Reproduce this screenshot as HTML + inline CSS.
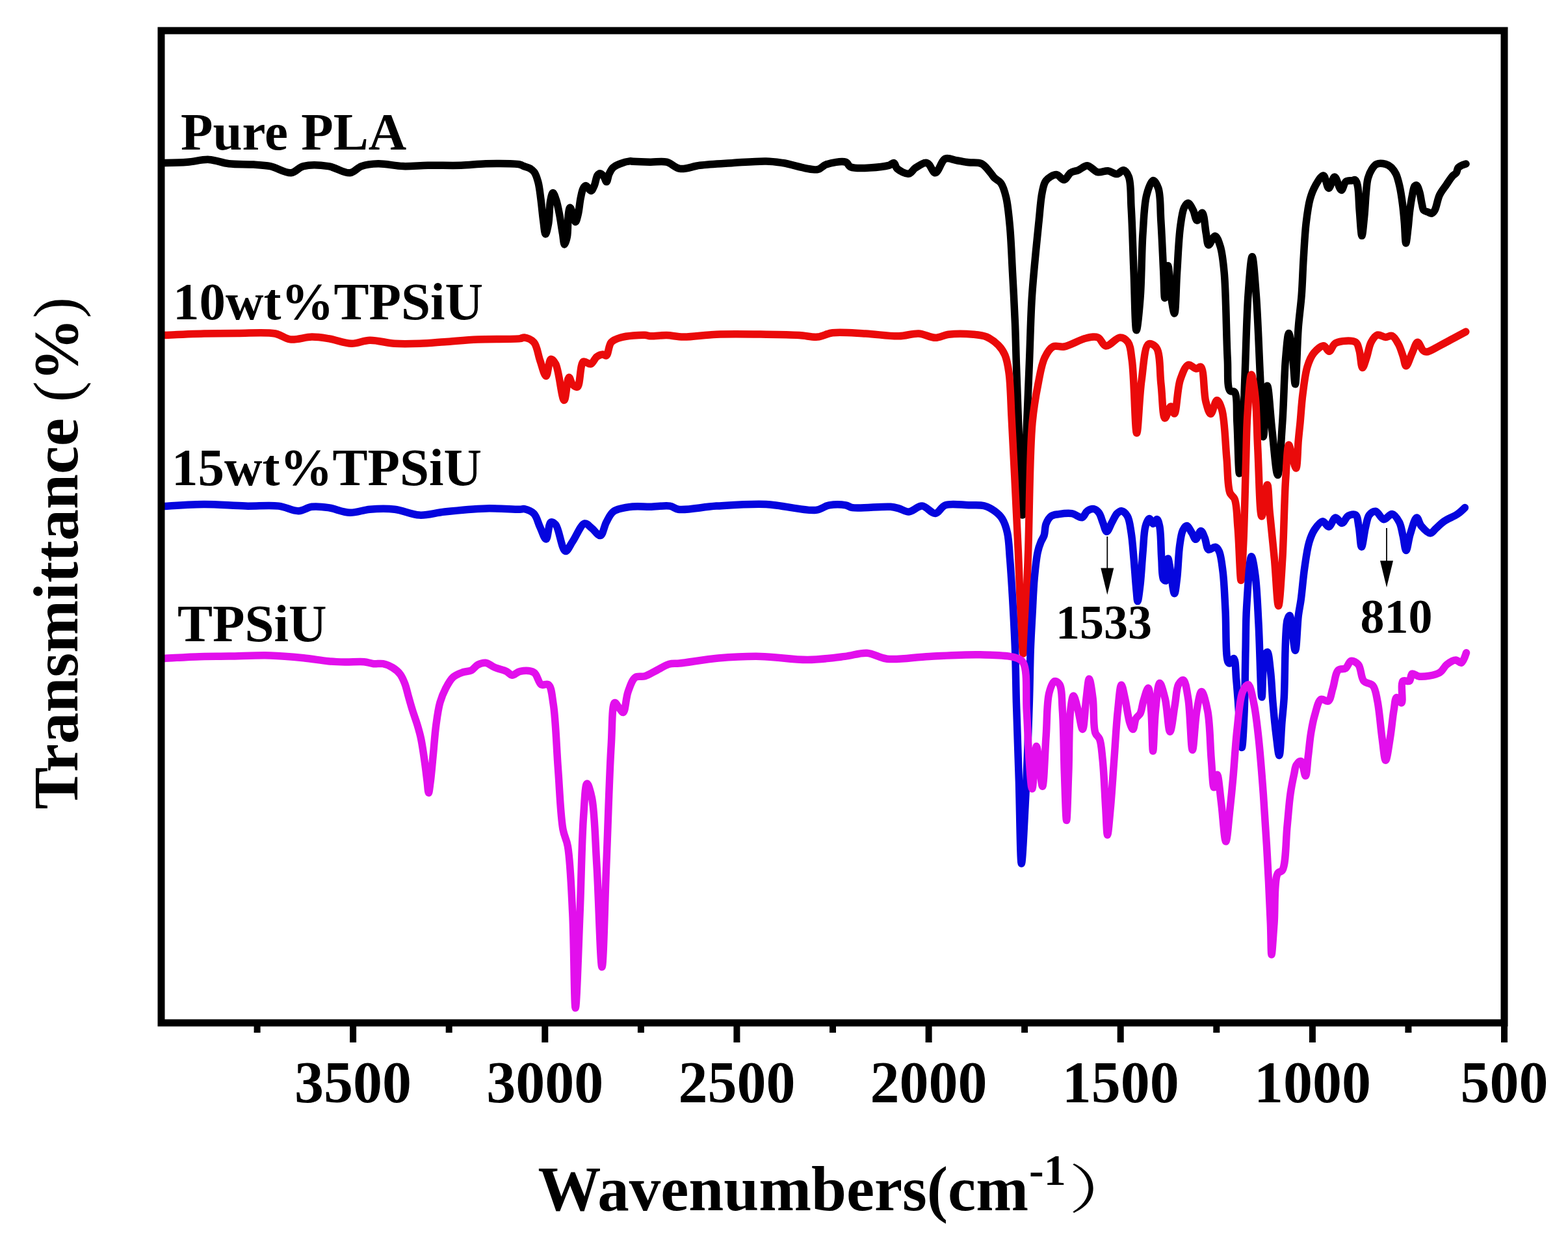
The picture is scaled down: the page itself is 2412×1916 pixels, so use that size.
<!DOCTYPE html>
<html><head><meta charset="utf-8"><title>FTIR spectra</title><style>html,body{margin:0;padding:0;background:#fff;overflow:hidden}svg{display:block}</style></head><body>
<svg width="2412" height="1916" viewBox="0 0 2412 1916">
<rect width="2412" height="1916" fill="#fff"/>
<path d="M252.6 250.5 C252.6 250.5 276.6 250.1 288.3 249.2 C299.6 248.4 310.6 244.9 321.4 245.4 C331.8 245.9 341.2 250.5 352.0 251.8 C364.0 253.2 378.8 252.3 390.3 253.1 C399.7 253.7 406.9 253.8 415.8 255.6 C425.9 257.7 438.6 266.6 447.7 265.8 C455.0 265.1 459.0 257.5 466.8 255.6 C477.1 253.0 492.9 253.8 505.1 255.6 C516.7 257.3 529.1 266.8 538.3 265.8 C545.4 265.0 549.4 257.9 556.1 255.6 C563.6 253.0 572.2 252.0 581.6 251.8 C593.1 251.5 607.1 255.2 619.9 255.6 C632.7 256.0 644.5 254.5 658.2 254.3 C674.0 254.0 693.4 254.8 709.2 254.3 C722.9 253.9 733.6 252.1 747.4 251.8 C763.5 251.5 791.9 251.3 800.0 253.1 C802.6 253.7 803.0 254.5 804.9 255.3 C807.6 256.4 811.9 257.1 814.8 258.8 C817.5 260.3 819.8 262.0 821.8 264.7 C824.4 268.3 826.1 273.9 827.7 279.6 C829.7 286.7 830.5 295.4 831.7 304.4 C833.2 315.0 834.3 329.1 835.7 339.2 C836.8 347.0 837.7 359.9 839.1 360.0 C840.4 360.1 842.4 350.5 843.6 344.1 C845.3 334.8 844.9 318.1 846.6 309.4 C847.6 304.0 849.0 296.6 850.5 296.5 C852.0 296.4 854.0 303.0 855.5 307.4 C857.5 313.4 859.0 321.4 860.5 329.3 C862.3 338.4 863.9 350.5 865.4 359.0 C866.5 365.4 867.1 375.8 868.4 375.9 C869.5 376.0 871.4 369.1 872.4 364.0 C874.0 355.5 873.2 337.3 874.4 329.3 C875.0 324.9 875.7 319.4 876.8 319.3 C878.0 319.2 879.9 325.8 881.3 329.3 C882.8 333.1 884.0 341.2 885.3 341.2 C886.6 341.2 888.1 334.0 889.3 329.3 C890.9 322.6 891.7 311.6 893.2 304.4 C894.4 298.8 895.3 292.8 897.2 289.6 C898.3 287.6 899.6 285.6 901.2 285.6 C903.4 285.6 906.9 293.7 909.1 293.5 C911.1 293.3 912.6 288.8 914.1 285.6 C916.1 281.3 916.9 272.8 919.0 269.7 C920.2 268.0 921.5 266.7 923.0 266.7 C924.8 266.7 927.4 269.6 929.0 271.7 C930.7 273.9 931.7 279.7 932.9 279.6 C934.4 279.5 935.2 271.4 936.9 267.7 C938.5 264.2 940.2 260.4 942.9 257.8 C945.7 255.1 949.8 253.4 953.8 251.8 C958.3 250.0 965.1 248.3 968.7 247.9 C970.8 247.7 971.3 248.1 973.6 248.2 C978.9 248.5 991.3 249.0 1000.0 249.2 C1008.6 249.4 1017.7 247.4 1025.5 249.2 C1032.9 250.9 1038.2 258.2 1045.9 259.4 C1054.9 260.8 1065.0 255.7 1076.5 254.3 C1091.3 252.5 1110.6 251.6 1127.6 250.5 C1144.6 249.5 1164.5 247.7 1178.6 248.0 C1188.6 248.2 1194.1 249.1 1204.1 250.5 C1218.7 252.6 1246.2 262.7 1257.7 260.7 C1263.7 259.6 1265.0 255.0 1270.4 253.1 C1278.2 250.4 1294.5 247.0 1301.0 249.2 C1304.9 250.5 1304.4 255.2 1308.7 256.9 C1318.7 260.8 1357.0 256.9 1367.3 254.3 C1371.2 253.3 1372.9 249.9 1375.0 250.5 C1377.3 251.2 1377.3 256.9 1380.1 259.4 C1384.0 262.8 1393.1 267.9 1398.0 267.1 C1402.1 266.5 1404.1 260.8 1408.2 258.2 C1413.1 255.1 1420.9 249.3 1426.0 250.5 C1431.1 251.7 1434.5 266.0 1438.8 265.8 C1443.8 265.6 1447.8 246.8 1454.1 244.1 C1459.2 241.9 1465.9 245.8 1471.9 246.7 C1477.9 247.7 1483.8 249.0 1490.0 249.8 C1496.5 250.7 1504.3 249.1 1509.9 251.8 C1515.5 254.5 1520.1 261.6 1523.7 265.7 C1526.2 268.6 1527.3 271.1 1529.7 273.6 C1532.4 276.4 1536.9 277.7 1539.6 281.5 C1543.3 286.7 1545.5 294.6 1547.6 303.4 C1550.6 315.7 1551.9 332.2 1553.5 349.0 C1555.4 369.7 1556.2 394.6 1557.5 418.5 C1558.9 444.1 1560.5 473.1 1561.5 497.9 C1562.4 519.9 1562.6 535.4 1563.4 560.0 C1564.6 596.1 1566.6 652.3 1568.3 693.4 C1569.8 728.8 1571.4 792.0 1573.0 792.0 C1574.6 792.0 1576.2 728.7 1577.8 693.4 C1579.6 652.3 1581.6 601.5 1583.3 560.0 C1584.8 523.8 1585.4 488.9 1587.3 458.2 C1588.9 432.8 1591.2 409.9 1593.2 388.7 C1594.9 370.8 1596.5 355.1 1598.2 339.1 C1599.8 324.1 1600.7 306.7 1603.2 295.4 C1604.8 288.1 1605.4 282.1 1609.1 277.6 C1612.7 273.2 1620.1 268.4 1625.0 268.6 C1629.3 268.8 1633.3 277.0 1636.9 276.6 C1640.6 276.2 1643.0 268.2 1646.8 265.7 C1650.3 263.4 1654.6 263.4 1658.7 261.7 C1663.2 259.8 1667.9 254.5 1672.6 254.7 C1677.8 254.9 1683.0 263.5 1688.5 264.7 C1693.6 265.8 1699.3 262.2 1704.4 262.7 C1709.3 263.2 1714.1 268.0 1718.3 267.6 C1722.0 267.2 1725.3 261.2 1728.2 261.7 C1731.3 262.2 1734.2 266.6 1736.2 271.6 C1740.1 281.2 1739.0 300.5 1740.1 319.3 C1741.8 346.4 1742.7 386.3 1744.1 418.5 C1745.4 449.1 1746.0 507.7 1748.1 507.8 C1749.7 507.9 1752.5 477.6 1754.0 458.2 C1756.2 430.8 1756.0 387.9 1758.0 359.0 C1759.6 336.6 1759.9 314.1 1763.9 299.4 C1766.4 290.1 1770.5 277.9 1773.9 277.6 C1776.5 277.4 1779.8 283.8 1781.8 289.5 C1785.5 300.1 1784.6 320.6 1785.8 339.1 C1787.3 362.5 1788.7 396.6 1789.8 418.5 C1790.6 434.0 1790.7 458.2 1791.7 458.2 C1792.9 458.2 1795.0 408.6 1796.7 408.6 C1798.4 408.6 1799.6 444.7 1801.7 458.2 C1803.1 467.6 1805.3 482.1 1806.6 482.0 C1808.7 481.8 1809.1 440.1 1810.6 418.5 C1812.1 395.9 1813.1 367.3 1815.6 349.0 C1817.2 337.0 1818.5 325.5 1821.5 319.3 C1823.2 315.9 1825.4 312.2 1827.5 312.3 C1830.0 312.4 1833.2 319.1 1835.4 323.2 C1837.9 327.9 1838.9 338.8 1841.4 339.1 C1843.7 339.4 1847.2 326.8 1849.3 327.2 C1852.5 327.8 1853.5 349.9 1855.3 359.0 C1856.7 365.8 1856.8 376.3 1859.2 376.8 C1861.5 377.3 1866.2 362.7 1869.2 362.9 C1872.2 363.1 1875.0 372.1 1877.1 378.8 C1880.3 388.9 1881.5 401.3 1883.1 418.5 C1886.1 449.8 1886.3 518.1 1888.2 551.6 C1889.4 571.9 1887.1 594.5 1891.9 600.6 C1893.8 603.0 1897.3 600.6 1899.2 603.0 C1903.8 608.9 1901.8 632.0 1902.9 649.6 C1904.3 672.3 1904.9 727.9 1906.6 728.0 C1907.6 728.0 1909.1 711.8 1910.2 698.6 C1912.4 671.8 1913.5 616.9 1915.1 576.0 C1916.7 535.2 1917.6 486.9 1920.0 453.5 C1921.7 430.3 1924.1 394.7 1926.2 394.7 C1928.2 394.7 1930.5 430.3 1932.3 453.5 C1934.9 486.9 1936.5 537.7 1938.4 576.0 C1940.1 609.9 1941.3 671.7 1943.3 671.7 C1945.1 671.7 1947.2 593.2 1949.5 593.2 C1951.7 593.2 1954.2 639.0 1956.8 661.9 C1959.5 684.8 1962.8 730.5 1965.4 730.5 C1968.2 730.5 1970.7 677.9 1972.7 649.6 C1974.9 618.5 1975.4 576.9 1977.6 551.6 C1979.0 535.6 1980.7 512.4 1982.5 512.4 C1984.4 512.4 1987.0 538.5 1988.7 551.6 C1990.3 564.6 1991.2 590.8 1992.4 590.8 C1994.2 590.8 1995.3 527.6 1997.3 502.5 C1998.8 483.8 2000.9 470.2 2002.2 453.5 C2003.5 436.1 2003.9 418.2 2005.0 400.0 C2006.2 381.1 2007.2 359.4 2009.2 342.4 C2010.8 328.8 2012.4 316.0 2015.3 305.7 C2017.5 297.8 2020.0 291.4 2023.5 285.3 C2026.8 279.6 2032.3 269.5 2035.7 270.0 C2039.2 270.5 2041.0 289.3 2043.9 289.4 C2046.7 289.5 2049.9 272.0 2053.0 272.0 C2056.3 272.0 2060.1 292.4 2063.3 292.4 C2065.9 292.4 2067.1 281.5 2070.4 279.2 C2073.0 277.3 2077.4 278.1 2080.0 277.6 C2081.8 277.3 2083.4 276.0 2084.7 276.7 C2086.5 277.7 2087.4 281.8 2088.4 286.0 C2090.3 294.2 2090.1 310.8 2091.2 323.4 C2092.3 336.3 2093.6 362.6 2094.9 362.6 C2096.1 362.6 2097.6 343.3 2098.7 332.8 C2099.9 321.1 2100.4 306.1 2101.5 295.4 C2102.3 287.2 2102.6 280.1 2104.3 273.9 C2105.7 268.9 2107.5 264.5 2109.9 260.8 C2112.0 257.5 2114.1 253.9 2117.4 252.4 C2121.1 250.8 2127.4 251.4 2131.4 252.4 C2134.7 253.3 2137.3 254.9 2139.8 257.1 C2142.7 259.7 2145.2 263.3 2147.3 267.4 C2149.8 272.5 2151.3 279.1 2152.9 286.0 C2154.8 294.3 2156.3 304.7 2157.5 314.1 C2158.7 323.4 2159.5 332.5 2160.3 342.1 C2161.2 352.4 2161.6 373.9 2162.7 373.9 C2163.6 373.9 2164.9 359.3 2165.9 351.4 C2167.0 342.6 2167.5 332.3 2168.7 323.4 C2169.8 315.3 2171.1 306.9 2172.5 300.1 C2173.6 294.8 2174.3 288.0 2176.2 286.0 C2177.1 285.1 2178.5 284.6 2179.5 285.1 C2181.3 286.0 2182.5 291.4 2183.7 295.4 C2185.3 300.6 2186.1 309.0 2187.4 314.1 C2188.3 317.8 2188.4 321.4 2190.2 323.4 C2191.8 325.1 2194.7 325.4 2196.8 326.2 C2198.7 326.9 2200.7 328.5 2202.4 328.1 C2204.2 327.7 2205.6 325.8 2207.0 323.4 C2209.8 318.7 2211.1 306.9 2214.4 300.0 C2217.3 293.9 2221.5 289.1 2225.0 284.0 C2228.3 279.1 2232.0 273.1 2235.0 270.0 C2236.8 268.1 2238.7 267.8 2240.0 266.0 C2241.5 263.9 2241.5 260.0 2243.0 258.0 C2244.3 256.3 2246.1 255.5 2248.0 254.5 C2250.1 253.4 2255.0 252.0 2255.0 252.0" fill="none" stroke="#000" stroke-width="11.5" stroke-linejoin="round" stroke-linecap="round"/>
<path d="M252.6 515.5 C252.6 515.5 294.3 513.5 313.8 513.0 C331.6 512.5 347.2 512.4 364.8 512.4 C383.7 512.4 408.6 510.1 423.5 513.0 C433.1 514.9 437.9 520.8 446.4 521.9 C456.3 523.2 469.3 518.2 479.6 518.1 C488.7 518.0 495.9 519.2 505.1 520.6 C516.0 522.3 529.6 528.1 540.8 528.3 C550.7 528.5 558.8 523.4 568.9 523.2 C580.6 522.9 594.3 527.5 607.1 528.3 C619.8 529.1 632.6 528.7 645.4 528.3 C658.2 527.9 670.0 526.7 683.7 525.7 C699.5 524.6 716.6 522.8 734.7 521.9 C755.1 520.9 789.5 522.0 800.0 520.6 C803.4 520.2 804.0 518.7 806.6 519.0 C810.6 519.5 817.6 522.0 821.4 526.4 C826.5 532.3 827.5 545.3 830.7 554.2 C833.7 562.6 837.2 578.4 840.0 578.3 C842.8 578.2 844.0 553.3 847.4 552.4 C849.5 551.9 852.5 555.7 854.8 559.8 C860.1 569.4 864.1 615.4 867.8 615.4 C870.7 615.4 872.3 580.6 875.2 580.2 C876.9 580.0 878.3 588.8 880.8 591.3 C882.8 593.3 886.1 596.0 888.2 595.0 C892.9 592.8 891.9 559.2 897.4 556.1 C900.4 554.4 905.3 560.7 908.6 559.8 C912.3 558.8 914.5 551.1 918.0 548.6 C920.8 546.6 924.5 545.1 927.2 545.0 C929.3 544.9 931.1 547.6 932.7 546.8 C935.9 545.3 936.0 531.1 940.2 526.4 C943.9 522.3 948.7 520.8 955.0 519.0 C964.4 516.3 984.2 515.0 992.0 515.3 C995.7 515.5 996.6 516.6 1000.0 516.8 C1006.1 517.2 1017.0 515.3 1025.5 515.5 C1034.0 515.7 1041.0 518.0 1051.0 518.1 C1065.1 518.3 1083.3 514.9 1102.0 514.2 C1124.9 513.3 1155.7 513.9 1178.6 514.2 C1197.3 514.4 1215.1 514.6 1229.6 515.5 C1240.4 516.1 1248.9 518.9 1257.7 518.1 C1265.8 517.4 1271.4 512.8 1280.6 511.7 C1294.1 510.0 1314.6 512.2 1331.6 513.0 C1348.6 513.9 1367.9 517.2 1382.7 516.8 C1394.2 516.5 1403.6 512.4 1413.3 513.0 C1422.2 513.5 1430.8 519.3 1438.8 519.3 C1446.0 519.3 1451.3 515.2 1459.2 514.2 C1469.9 512.9 1486.7 513.2 1497.4 514.2 C1505.3 514.9 1511.6 515.4 1517.9 518.1 C1524.4 520.9 1530.9 525.9 1535.7 530.8 C1540.1 535.3 1543.3 540.0 1545.9 546.1 C1549.1 553.5 1550.4 561.8 1552.0 572.8 C1554.5 590.0 1554.7 615.9 1556.0 640.0 C1557.6 668.1 1559.1 698.9 1560.7 731.3 C1562.5 768.3 1564.8 813.2 1566.4 850.0 C1567.8 882.1 1568.6 912.4 1570.0 940.0 C1571.2 963.4 1572.7 1005.0 1574.0 1005.0 C1575.3 1005.0 1576.8 963.4 1578.0 940.0 C1579.4 912.4 1580.3 885.9 1581.6 850.0 C1583.5 796.5 1583.7 697.1 1588.0 650.0 C1590.4 624.1 1593.4 607.9 1597.0 590.0 C1599.9 575.2 1602.1 560.2 1607.0 550.0 C1610.5 542.7 1614.6 535.7 1620.0 533.0 C1624.8 530.6 1630.5 534.2 1637.0 533.0 C1646.5 531.2 1661.1 522.1 1670.8 520.0 C1677.7 518.5 1683.9 516.9 1689.0 519.0 C1694.0 521.0 1696.0 531.3 1701.0 532.0 C1707.0 532.9 1716.8 519.0 1723.0 519.0 C1727.6 519.0 1732.0 522.0 1735.0 526.0 C1739.3 531.8 1739.5 541.6 1741.3 554.2 C1744.9 579.0 1745.9 666.0 1748.6 666.0 C1750.9 666.0 1752.5 609.4 1756.0 585.0 C1758.9 564.5 1760.2 532.3 1767.0 529.0 C1770.3 527.4 1775.9 530.7 1779.0 535.0 C1785.3 543.9 1783.8 572.7 1786.0 591.0 C1788.1 608.6 1788.2 642.3 1792.0 643.0 C1794.3 643.4 1798.4 625.0 1801.0 625.0 C1803.1 625.0 1804.8 636.3 1806.5 636.0 C1810.0 635.5 1810.8 597.6 1815.5 584.0 C1818.8 574.5 1823.0 562.6 1828.0 561.0 C1831.6 559.9 1836.5 566.8 1840.0 567.0 C1842.7 567.1 1845.2 563.1 1847.2 564.3 C1852.5 567.4 1851.3 604.4 1854.8 617.5 C1857.0 625.6 1859.6 636.3 1862.4 636.4 C1865.3 636.5 1868.9 615.5 1872.0 615.4 C1874.6 615.3 1877.5 623.0 1879.6 630.0 C1884.1 645.1 1884.8 682.2 1887.0 705.0 C1888.8 724.1 1888.0 747.3 1891.9 757.6 C1893.8 762.6 1897.3 762.7 1899.2 767.5 C1902.8 776.7 1902.6 794.7 1904.1 811.6 C1906.1 834.5 1907.5 892.5 1909.0 892.5 C1910.3 892.5 1911.6 858.4 1912.7 836.0 C1914.3 803.0 1915.3 749.1 1916.4 713.5 C1917.3 685.9 1917.3 663.6 1918.8 640.0 C1920.2 617.9 1922.6 576.1 1925.0 576.0 C1926.8 575.9 1929.5 596.2 1931.0 610.0 C1933.3 631.0 1933.3 661.6 1934.8 690.0 C1936.5 722.4 1937.6 793.8 1940.9 794.0 C1943.2 794.1 1947.4 745.3 1949.5 745.4 C1951.4 745.5 1951.6 771.2 1953.1 787.0 C1955.1 808.1 1958.2 836.3 1960.5 860.6 C1962.7 884.5 1964.6 931.7 1966.6 931.7 C1968.6 931.7 1971.0 887.5 1972.7 860.6 C1974.9 825.3 1975.5 770.6 1977.6 738.0 C1979.0 716.4 1980.1 684.3 1982.5 684.1 C1983.9 684.0 1985.7 695.5 1987.5 701.3 C1989.4 707.4 1992.1 720.2 1993.6 720.0 C1995.9 719.7 1996.1 689.5 1997.3 676.8 C1998.2 666.8 1999.0 660.0 2000.0 650.0 C2001.2 637.2 2002.1 620.5 2004.0 606.1 C2005.8 591.9 2007.5 575.4 2011.0 564.0 C2013.6 555.6 2016.3 548.5 2020.8 543.0 C2024.9 538.0 2032.0 531.5 2036.2 531.8 C2039.6 532.1 2041.8 540.4 2044.6 540.2 C2047.9 540.0 2049.5 530.2 2054.5 527.6 C2061.5 524.0 2079.5 522.6 2085.3 526.2 C2089.2 528.6 2089.3 533.7 2090.9 538.8 C2093.1 545.9 2093.6 565.3 2095.8 565.5 C2097.5 565.7 2100.1 555.8 2102.1 550.0 C2104.6 543.0 2105.7 532.4 2109.1 526.2 C2111.7 521.4 2115.0 516.2 2118.9 515.0 C2122.5 513.9 2127.5 518.4 2131.5 518.5 C2135.0 518.6 2138.3 515.3 2141.3 516.4 C2145.0 517.8 2148.4 524.2 2151.1 529.0 C2154.1 534.3 2156.0 541.4 2158.1 547.3 C2160.0 552.6 2160.9 562.6 2163.0 562.7 C2165.4 562.9 2169.2 549.3 2172.2 543.0 C2175.0 537.2 2177.6 526.4 2180.6 526.2 C2183.3 526.0 2186.1 536.5 2189.0 538.8 C2190.8 540.3 2192.2 541.1 2194.6 541.0 C2199.2 540.9 2207.6 535.1 2214.2 531.8 C2221.1 528.3 2228.3 524.3 2235.2 520.6 C2241.8 517.0 2254.8 510.1 2254.8 510.1" fill="none" stroke="#ea0a0a" stroke-width="11.5" stroke-linejoin="round" stroke-linecap="round"/>
<path d="M252.6 778.6 C252.6 778.6 293.2 775.6 313.8 775.5 C334.8 775.4 357.5 777.7 377.6 778.1 C395.5 778.5 413.9 776.3 428.6 778.1 C440.2 779.5 450.1 786.0 459.2 785.7 C466.7 785.5 472.3 780.2 479.6 779.3 C487.5 778.3 496.1 779.3 505.1 780.6 C515.5 782.1 527.4 788.0 538.3 788.3 C548.7 788.6 558.1 784.1 568.9 783.2 C580.9 782.2 594.4 781.7 607.1 783.2 C619.9 784.7 632.6 791.5 645.4 792.1 C658.1 792.7 669.3 788.5 683.7 787.0 C702.2 785.0 727.2 782.5 747.4 781.9 C765.8 781.4 790.8 783.4 800.0 783.2 C803.3 783.1 804.0 782.2 806.6 782.7 C810.6 783.5 817.5 786.1 821.4 790.1 C825.9 794.8 827.5 803.9 830.7 810.5 C833.7 816.8 837.3 829.3 840.0 829.0 C843.0 828.7 843.7 804.6 847.4 803.0 C849.5 802.1 852.4 804.1 854.8 806.8 C860.2 813.0 864.3 846.8 869.7 847.6 C873.2 848.1 876.7 838.6 880.8 832.8 C886.3 825.0 893.4 806.2 899.4 805.0 C903.2 804.2 906.7 809.6 910.5 812.4 C914.8 815.6 919.9 824.3 923.5 823.5 C927.6 822.6 929.2 809.3 932.7 803.0 C936.0 797.0 938.3 790.4 943.9 786.4 C950.9 781.5 963.9 780.1 973.6 779.0 C982.6 777.9 990.9 779.4 1000.0 779.3 C1009.8 779.2 1022.7 776.7 1030.6 778.1 C1035.9 779.0 1037.4 782.3 1043.4 783.2 C1055.7 785.0 1081.1 779.4 1102.0 778.1 C1125.8 776.7 1153.1 774.5 1178.6 775.5 C1204.1 776.5 1237.9 786.5 1255.1 784.4 C1264.2 783.3 1268.2 778.1 1275.5 776.8 C1283.4 775.4 1294.5 775.6 1301.0 776.8 C1305.3 777.6 1306.3 779.8 1311.2 780.6 C1322.6 782.5 1357.5 778.2 1369.9 779.3 C1375.8 779.8 1378.3 780.7 1382.7 781.9 C1387.6 783.2 1392.6 787.2 1398.0 787.0 C1404.4 786.7 1411.7 777.8 1418.4 778.1 C1425.3 778.4 1432.7 790.1 1438.8 789.5 C1444.5 789.0 1447.4 779.2 1454.1 776.8 C1463.1 773.5 1479.3 776.5 1490.0 776.7 C1498.7 776.9 1506.8 775.9 1513.8 777.7 C1519.8 779.3 1525.0 782.3 1529.7 785.7 C1534.3 789.0 1538.4 792.6 1541.6 797.6 C1545.3 803.5 1547.7 810.9 1549.6 819.4 C1552.1 830.5 1552.3 844.5 1553.5 859.1 C1555.0 876.9 1556.2 897.4 1557.5 918.7 C1558.9 943.3 1560.5 971.4 1561.5 998.1 C1562.5 1025.2 1562.6 1050.0 1563.4 1080.0 C1564.4 1116.4 1566.1 1160.2 1567.4 1201.0 C1568.7 1242.8 1569.5 1328.0 1571.3 1328.0 C1572.8 1328.0 1575.2 1273.3 1577.0 1239.5 C1579.4 1194.1 1581.9 1124.4 1583.3 1080.0 C1584.3 1048.2 1584.4 1023.2 1585.3 998.1 C1586.1 976.7 1587.3 957.5 1588.3 938.5 C1589.2 921.2 1589.8 904.5 1591.2 888.9 C1592.5 874.9 1594.0 859.4 1596.2 849.2 C1597.6 842.6 1599.3 837.9 1601.2 833.3 C1602.7 829.5 1604.8 827.3 1606.1 823.4 C1607.7 818.4 1607.1 810.7 1609.1 805.5 C1610.9 800.9 1613.5 796.1 1617.0 793.6 C1620.3 791.3 1624.5 791.3 1629.0 790.6 C1634.7 789.7 1642.7 788.6 1648.8 789.6 C1654.5 790.5 1660.6 796.7 1664.7 795.6 C1668.2 794.6 1669.4 787.8 1672.6 785.7 C1675.5 783.8 1679.6 782.2 1682.6 782.7 C1685.5 783.2 1688.3 785.8 1690.5 788.6 C1693.3 792.2 1694.5 798.6 1696.5 803.5 C1698.5 808.2 1700.1 817.3 1702.4 817.4 C1704.7 817.5 1707.7 808.1 1710.3 803.5 C1713.0 798.9 1715.3 792.6 1718.3 789.6 C1720.4 787.5 1722.8 785.5 1725.2 785.7 C1728.1 786.0 1731.9 789.7 1734.2 793.6 C1737.7 799.4 1738.5 809.8 1740.1 819.4 C1742.0 831.2 1742.8 845.1 1744.1 859.1 C1745.5 874.7 1746.9 896.8 1748.1 908.7 C1748.8 915.5 1749.2 924.6 1750.0 924.6 C1751.0 924.6 1752.8 908.8 1754.0 898.8 C1755.6 885.0 1756.6 864.8 1758.0 849.2 C1759.3 835.2 1759.4 818.7 1762.0 809.5 C1763.5 804.2 1765.7 797.8 1767.9 797.6 C1769.8 797.4 1771.9 805.4 1773.9 805.5 C1775.8 805.6 1778.2 798.3 1779.8 798.6 C1781.6 798.9 1782.7 804.4 1783.8 809.5 C1786.0 820.0 1785.7 844.4 1786.8 859.1 C1787.7 870.9 1787.0 886.7 1789.8 890.9 C1790.8 892.4 1792.6 893.5 1793.7 892.9 C1796.6 891.3 1795.3 859.2 1796.7 859.1 C1797.8 859.0 1799.3 871.5 1800.7 879.0 C1802.5 888.8 1804.8 912.7 1806.6 912.7 C1808.1 912.7 1809.4 898.3 1810.6 888.9 C1812.3 875.4 1812.7 852.8 1814.6 839.3 C1815.9 829.8 1816.9 820.8 1819.5 815.4 C1821.1 812.1 1823.4 808.4 1825.5 808.5 C1828.0 808.6 1831.0 815.8 1833.4 819.4 C1835.6 822.7 1837.3 829.3 1839.4 829.3 C1841.8 829.3 1844.9 816.3 1847.3 816.4 C1849.5 816.5 1851.5 823.1 1853.3 827.3 C1855.5 832.4 1855.8 843.6 1859.2 845.2 C1861.7 846.4 1866.5 840.6 1869.2 841.2 C1871.6 841.7 1873.5 844.0 1875.1 847.2 C1878.3 853.4 1879.5 866.7 1881.1 879.0 C1883.2 895.7 1883.8 917.2 1885.0 938.5 C1886.4 963.1 1885.0 1010.7 1889.0 1017.9 C1889.8 1019.4 1890.8 1020.0 1891.9 1019.9 C1893.7 1019.7 1896.4 1012.0 1898.0 1012.5 C1900.8 1013.3 1900.7 1034.0 1901.7 1044.4 C1902.7 1054.3 1903.1 1061.5 1904.1 1073.5 C1905.7 1092.9 1908.5 1149.5 1910.2 1149.5 C1911.6 1149.5 1913.0 1117.9 1913.9 1098.0 C1915.2 1070.6 1915.3 1029.4 1916.0 1000.0 C1916.6 975.8 1916.2 956.9 1917.6 934.0 C1919.1 909.0 1922.1 855.9 1925.0 855.7 C1926.8 855.6 1929.4 873.0 1931.0 885.0 C1933.6 903.9 1934.5 931.4 1936.0 958.6 C1937.9 992.3 1939.3 1072.0 1941.0 1072.0 C1942.3 1072.0 1941.7 1020.4 1945.0 1010.0 C1946.2 1006.1 1948.2 1002.4 1949.5 1002.7 C1951.9 1003.2 1953.1 1021.2 1954.4 1032.2 C1956.1 1046.2 1956.6 1063.9 1958.0 1080.0 C1959.4 1096.5 1961.1 1115.2 1963.0 1130.0 C1964.5 1141.8 1966.4 1161.8 1967.8 1161.8 C1969.6 1161.7 1970.7 1125.8 1972.0 1110.0 C1973.1 1096.8 1974.2 1089.2 1975.2 1073.5 C1977.0 1045.1 1976.0 969.4 1980.1 953.7 C1981.2 949.6 1982.6 946.2 1983.8 946.4 C1986.9 946.9 1990.1 1000.4 1992.4 1000.3 C1994.6 1000.2 1995.5 960.8 1997.3 946.4 C1998.5 936.7 1999.9 931.7 2001.2 922.2 C2003.1 908.7 2004.5 888.5 2006.8 873.1 C2008.8 859.3 2010.6 844.6 2013.8 833.9 C2016.1 826.1 2018.5 819.8 2022.2 814.3 C2025.6 809.3 2030.9 801.8 2034.8 801.7 C2038.0 801.6 2040.9 810.3 2043.9 810.0 C2047.5 809.7 2050.8 796.4 2054.5 796.0 C2057.7 795.7 2061.1 804.7 2064.3 804.5 C2067.7 804.3 2070.3 795.2 2074.1 793.2 C2077.4 791.4 2082.6 790.0 2085.3 791.8 C2088.7 794.1 2088.8 803.1 2090.2 810.0 C2092.0 818.9 2092.7 840.8 2094.4 840.9 C2096.2 841.0 2098.4 818.9 2100.7 810.0 C2102.5 803.1 2103.1 795.8 2106.3 791.8 C2108.8 788.7 2112.8 785.8 2116.1 786.2 C2120.2 786.8 2124.3 798.4 2128.7 798.8 C2132.7 799.2 2137.4 789.9 2141.3 790.4 C2145.4 790.9 2149.7 797.9 2152.5 803.0 C2155.6 808.8 2156.4 816.9 2158.1 824.0 C2159.9 831.4 2161.2 846.5 2163.0 846.5 C2164.9 846.5 2166.6 829.6 2169.3 821.3 C2172.0 812.8 2176.0 796.2 2179.2 796.0 C2181.6 795.8 2183.0 804.9 2186.2 808.7 C2189.8 812.9 2196.1 819.9 2200.2 819.9 C2203.4 819.9 2205.5 815.5 2208.6 812.9 C2212.4 809.6 2216.2 805.2 2221.2 801.7 C2227.1 797.6 2236.5 794.4 2242.2 790.4 C2246.7 787.3 2253.4 780.6 2253.4 780.6" fill="none" stroke="#0505de" stroke-width="11.5" stroke-linejoin="round" stroke-linecap="round"/>
<path d="M252.6 1012.4 C252.6 1012.4 284.7 1010.5 301.0 1009.9 C317.8 1009.3 334.0 1009.4 352.0 1009.1 C372.1 1008.8 395.7 1007.3 415.8 1007.9 C433.8 1008.4 451.0 1010.1 466.8 1011.7 C480.5 1013.1 493.6 1015.7 505.1 1016.8 C514.4 1017.7 521.8 1017.9 530.6 1018.1 C540.0 1018.3 551.9 1016.9 560.0 1017.7 C565.7 1018.2 569.7 1020.2 574.6 1020.7 C579.4 1021.2 584.4 1019.8 589.2 1020.7 C594.2 1021.6 599.4 1023.8 603.8 1026.5 C608.2 1029.2 612.4 1032.6 615.5 1036.7 C618.7 1040.9 620.7 1045.9 622.8 1051.3 C625.2 1057.5 626.6 1065.0 628.6 1071.8 C630.5 1078.6 632.4 1085.3 634.5 1092.2 C636.7 1099.4 639.6 1106.8 641.8 1114.1 C644.0 1121.4 645.9 1127.7 647.6 1136.0 C649.8 1146.6 651.8 1161.0 653.4 1172.5 C654.9 1182.8 656.0 1193.2 657.1 1201.7 C657.9 1208.3 658.5 1219.2 659.3 1219.2 C660.2 1219.2 661.2 1208.9 662.2 1201.7 C663.7 1190.4 665.1 1172.5 666.6 1157.9 C668.0 1143.3 669.0 1127.7 670.9 1114.1 C672.5 1102.1 674.0 1090.4 676.8 1080.5 C679.1 1072.3 682.0 1065.3 685.5 1058.6 C688.8 1052.2 692.4 1045.3 697.2 1041.1 C701.4 1037.4 706.9 1035.5 711.8 1033.8 C716.2 1032.2 721.1 1032.9 725.0 1030.9 C728.9 1028.9 731.4 1024.1 735.2 1022.1 C738.8 1020.3 742.9 1018.8 746.9 1019.2 C751.6 1019.7 756.3 1024.4 761.5 1026.5 C767.0 1028.8 774.3 1030.0 779.0 1032.3 C782.5 1034.0 784.5 1038.0 787.7 1038.2 C791.4 1038.5 795.2 1033.2 800.0 1032.3 C806.0 1031.2 816.0 1030.8 821.4 1034.2 C826.9 1037.6 828.0 1050.2 832.6 1052.8 C835.9 1054.6 840.8 1050.6 843.7 1052.8 C848.5 1056.5 849.0 1069.5 851.1 1082.4 C854.9 1105.8 856.0 1149.8 858.5 1182.6 C860.9 1214.1 862.1 1254.1 866.0 1275.4 C868.1 1286.9 871.3 1289.7 873.4 1301.4 C877.4 1324.4 878.9 1367.8 880.8 1405.3 C883.0 1449.5 883.3 1550.0 885.2 1550.0 C887.1 1550.0 890.0 1453.9 892.0 1405.3 C894.1 1356.1 894.9 1293.5 897.5 1256.8 C899.1 1235.0 900.0 1205.2 903.0 1204.9 C905.0 1204.7 908.4 1216.9 910.5 1227.2 C914.9 1248.9 915.6 1292.9 918.0 1331.0 C920.9 1377.7 923.5 1487.0 926.0 1487.0 C928.4 1487.0 930.4 1385.3 932.7 1331.0 C935.2 1271.8 937.3 1191.4 940.2 1145.5 C941.9 1118.3 941.1 1082.0 945.7 1080.6 C947.7 1080.0 950.8 1087.3 953.2 1089.9 C955.1 1092.0 957.1 1095.9 958.7 1095.4 C962.0 1094.5 962.7 1073.3 966.1 1063.9 C969.1 1055.6 972.1 1045.3 977.3 1041.6 C981.3 1038.8 986.9 1041.3 992.0 1039.8 C998.0 1038.0 1004.5 1033.6 1010.7 1030.5 C1016.9 1027.4 1023.1 1022.9 1029.2 1021.2 C1034.5 1019.7 1038.1 1020.7 1045.0 1020.0 C1058.6 1018.6 1084.6 1013.8 1105.0 1012.0 C1126.2 1010.2 1147.7 1009.1 1169.9 1009.4 C1193.5 1009.8 1219.8 1014.7 1242.6 1014.5 C1262.8 1014.3 1283.2 1011.4 1299.7 1009.4 C1312.5 1007.8 1322.5 1003.5 1333.5 1004.2 C1344.2 1004.9 1352.3 1011.8 1364.7 1013.2 C1382.3 1015.2 1407.0 1010.4 1429.6 1009.4 C1454.4 1008.3 1484.2 1006.3 1507.5 1006.8 C1526.6 1007.2 1547.9 1007.1 1559.5 1010.6 C1566.0 1012.6 1570.2 1013.2 1573.7 1018.7 C1581.2 1030.6 1577.7 1068.5 1579.3 1093.4 C1580.9 1118.3 1581.4 1146.4 1583.1 1168.1 C1584.4 1185.0 1586.0 1213.0 1587.7 1213.0 C1589.7 1213.0 1592.1 1147.7 1594.3 1147.6 C1595.5 1147.6 1596.7 1160.1 1598.0 1168.1 C1599.8 1179.4 1601.9 1209.3 1603.6 1209.2 C1605.9 1209.1 1607.4 1155.7 1609.2 1130.8 C1610.8 1108.0 1610.0 1080.1 1613.9 1065.4 C1616.0 1057.3 1618.9 1048.6 1622.3 1047.6 C1624.6 1046.9 1627.9 1049.2 1629.8 1052.3 C1634.0 1058.9 1633.2 1076.9 1634.4 1093.4 C1636.2 1118.2 1636.2 1157.4 1637.3 1186.8 C1638.3 1213.1 1639.5 1261.5 1640.6 1261.5 C1641.7 1261.5 1642.8 1213.1 1643.8 1186.8 C1644.9 1157.4 1644.2 1114.1 1646.6 1093.4 C1647.8 1082.9 1649.3 1070.1 1651.3 1070.0 C1653.1 1069.9 1655.7 1082.3 1657.8 1089.7 C1660.4 1099.0 1663.2 1121.5 1665.3 1121.4 C1667.8 1121.3 1669.0 1088.6 1670.9 1074.7 C1672.4 1063.4 1673.8 1043.9 1675.5 1043.9 C1677.2 1043.9 1679.7 1063.0 1681.2 1074.7 C1683.1 1089.8 1681.3 1116.9 1684.9 1127.0 C1686.6 1131.7 1689.7 1132.1 1691.4 1136.4 C1694.3 1143.6 1694.7 1155.3 1696.1 1168.1 C1698.2 1187.7 1699.4 1221.7 1700.8 1242.9 C1701.8 1258.6 1702.4 1284.0 1703.6 1284.0 C1704.8 1284.0 1706.7 1258.7 1708.2 1242.9 C1710.2 1221.7 1711.9 1193.0 1713.8 1168.1 C1715.7 1143.2 1717.1 1114.4 1719.4 1093.4 C1721.1 1077.9 1722.7 1053.3 1725.0 1053.2 C1726.7 1053.1 1728.8 1066.5 1730.7 1074.7 C1733.2 1085.4 1735.3 1103.9 1738.1 1112.1 C1739.6 1116.4 1741.4 1121.5 1742.8 1121.4 C1744.6 1121.2 1745.2 1108.9 1747.5 1104.6 C1749.2 1101.4 1752.3 1100.4 1754.0 1097.1 C1756.4 1092.5 1756.8 1084.8 1758.7 1078.5 C1760.8 1071.8 1764.3 1057.7 1766.2 1057.9 C1768.7 1058.2 1769.6 1079.9 1770.8 1093.4 C1772.3 1111.1 1772.5 1155.0 1773.6 1155.0 C1774.7 1155.0 1775.4 1112.1 1777.4 1093.4 C1779.1 1077.7 1780.9 1050.7 1783.9 1050.4 C1786.2 1050.2 1789.9 1065.0 1792.3 1074.7 C1795.6 1088.4 1797.2 1125.2 1799.8 1125.2 C1802.2 1125.2 1805.0 1096.9 1807.3 1084.1 C1809.3 1072.8 1809.4 1058.6 1812.9 1052.3 C1814.9 1048.8 1818.2 1045.2 1820.3 1045.8 C1823.9 1046.9 1825.7 1062.6 1827.8 1074.7 C1831.1 1094.4 1831.9 1153.2 1834.3 1153.2 C1836.4 1153.2 1838.0 1109.8 1840.9 1093.4 C1843.0 1081.6 1845.5 1063.6 1848.3 1063.5 C1851.1 1063.4 1855.3 1081.0 1857.7 1093.4 C1861.4 1112.5 1861.5 1146.7 1863.3 1168.1 C1864.7 1184.3 1865.4 1210.7 1867.4 1210.8 C1868.8 1210.9 1870.8 1191.1 1872.3 1191.2 C1874.5 1191.3 1876.4 1217.6 1878.4 1232.8 C1880.9 1251.2 1883.3 1294.1 1885.7 1294.1 C1887.8 1294.1 1890.0 1261.4 1891.9 1245.1 C1893.7 1228.8 1895.2 1214.1 1896.8 1196.1 C1898.8 1174.1 1900.3 1145.6 1902.9 1122.5 C1905.3 1101.8 1906.6 1075.2 1911.5 1063.7 C1913.9 1058.1 1917.5 1052.2 1920.0 1052.7 C1923.6 1053.4 1926.2 1069.9 1928.6 1080.9 C1931.9 1095.9 1933.8 1114.7 1936.0 1134.8 C1938.8 1160.1 1941.1 1191.0 1943.3 1220.6 C1945.6 1252.2 1947.7 1285.6 1949.5 1318.6 C1951.4 1352.1 1953.3 1392.4 1954.4 1420.0 C1955.2 1439.0 1955.1 1468.0 1956.0 1468.0 C1956.9 1468.0 1958.6 1437.9 1960.0 1420.0 C1961.7 1397.4 1959.6 1353.2 1965.4 1343.1 C1967.4 1339.7 1970.7 1341.6 1972.7 1338.2 C1978.4 1328.8 1977.9 1290.6 1980.1 1269.6 C1981.9 1251.9 1982.9 1235.0 1985.0 1220.6 C1986.6 1209.2 1988.9 1198.2 1990.7 1190.0 C1991.9 1184.5 1992.0 1179.5 1994.2 1176.2 C1995.9 1173.5 1999.2 1170.0 2001.2 1170.6 C2004.4 1171.6 2006.4 1193.2 2008.2 1193.0 C2010.3 1192.8 2011.0 1172.7 2012.4 1162.1 C2013.8 1150.8 2014.8 1137.9 2016.6 1127.1 C2018.2 1117.6 2019.6 1109.1 2022.2 1100.5 C2024.8 1091.9 2027.3 1077.8 2032.0 1075.3 C2035.1 1073.7 2040.3 1079.6 2043.2 1078.1 C2047.1 1076.0 2047.8 1065.7 2050.2 1058.5 C2053.0 1050.0 2053.9 1034.9 2058.7 1030.4 C2061.7 1027.6 2066.7 1029.7 2069.9 1027.6 C2073.4 1025.3 2074.9 1017.2 2078.3 1016.4 C2081.5 1015.6 2086.5 1018.5 2089.5 1022.0 C2093.9 1027.0 2093.2 1041.9 2097.9 1047.3 C2101.5 1051.4 2108.5 1050.2 2111.9 1054.3 C2116.2 1059.4 2116.9 1068.4 2118.9 1078.1 C2121.9 1092.7 2123.6 1117.6 2125.9 1134.1 C2127.8 1147.2 2129.4 1169.2 2131.5 1169.2 C2133.6 1169.2 2136.5 1146.4 2138.5 1134.1 C2140.7 1120.8 2142.1 1103.4 2144.1 1092.1 C2145.5 1084.3 2145.8 1073.2 2148.3 1072.5 C2150.2 1072.0 2154.2 1081.5 2156.0 1080.9 C2159.0 1079.8 2153.9 1051.2 2158.1 1047.3 C2160.4 1045.2 2165.7 1048.9 2168.0 1047.3 C2170.6 1045.5 2169.6 1037.2 2172.2 1036.0 C2174.8 1034.8 2178.7 1039.8 2183.4 1040.2 C2191.1 1040.9 2206.9 1038.7 2214.2 1034.6 C2219.5 1031.6 2221.1 1025.3 2225.4 1022.0 C2229.5 1018.8 2235.3 1015.0 2239.4 1015.0 C2242.6 1015.0 2245.4 1020.0 2247.8 1019.2 C2251.1 1018.1 2255.5 1003.8 2255.5 1003.8" fill="none" stroke="#e20fec" stroke-width="11.5" stroke-linejoin="round" stroke-linecap="round"/>
<rect x="248.0" y="47.1" width="2066.0" height="1525.8000000000002" fill="none" stroke="#000" stroke-width="11"/>
<path d="M395.6 1572.9V1588 M543.1 1572.9V1603 M690.7 1572.9V1588 M838.3 1572.9V1603 M985.9 1572.9V1588 M1133.4 1572.9V1603 M1281.0 1572.9V1588 M1428.6 1572.9V1603 M1576.1 1572.9V1588 M1723.7 1572.9V1603 M1871.3 1572.9V1588 M2018.9 1572.9V1603 M2166.4 1572.9V1588 M2314.0 1572.9V1603" stroke="#000" stroke-width="10" fill="none"/>
<text x="543.1" y="1694.5" text-anchor="middle" font-family='"Liberation Serif", "Times New Roman", serif' font-weight="bold" font-size="90">3500</text>
<text x="838.3" y="1694.5" text-anchor="middle" font-family='"Liberation Serif", "Times New Roman", serif' font-weight="bold" font-size="90">3000</text>
<text x="1133.4" y="1694.5" text-anchor="middle" font-family='"Liberation Serif", "Times New Roman", serif' font-weight="bold" font-size="90">2500</text>
<text x="1428.6" y="1694.5" text-anchor="middle" font-family='"Liberation Serif", "Times New Roman", serif' font-weight="bold" font-size="90">2000</text>
<text x="1723.7" y="1694.5" text-anchor="middle" font-family='"Liberation Serif", "Times New Roman", serif' font-weight="bold" font-size="90">1500</text>
<text x="2018.9" y="1694.5" text-anchor="middle" font-family='"Liberation Serif", "Times New Roman", serif' font-weight="bold" font-size="90">1000</text>
<text x="2314.0" y="1694.5" text-anchor="middle" font-family='"Liberation Serif", "Times New Roman", serif' font-weight="bold" font-size="90">500</text>
<text x="278" y="230" font-family='"Liberation Serif", "Times New Roman", serif' font-weight="bold" font-size="81">Pure PLA</text>
<text x="266" y="491" font-family='"Liberation Serif", "Times New Roman", serif' font-weight="bold" font-size="81">10wt%TPSiU</text>
<text x="264" y="746" font-family='"Liberation Serif", "Times New Roman", serif' font-weight="bold" font-size="81">15wt%TPSiU</text>
<text x="273" y="985.5" font-family='"Liberation Serif", "Times New Roman", serif' font-weight="bold" font-size="81">TPSiU</text>
<text x="1624" y="982" font-family='"Liberation Serif", "Times New Roman", serif' font-weight="bold" font-size="74">1533</text>
<text x="2092.5" y="972.6" font-family='"Liberation Serif", "Times New Roman", serif' font-weight="bold" font-size="74">810</text>
<path d="M1703.3 825V884.4" stroke="#000" stroke-width="1.8"/>
<path d="M1693.3 873.4L1713.3 873.4L1703.3 914.4Z" fill="#000"/>
<path d="M2133 812V873.2" stroke="#000" stroke-width="1.8"/>
<path d="M2123 862.2L2143 862.2L2133 903.2Z" fill="#000"/>
<text transform="translate(119 1244.5) rotate(-90)" font-family='"Liberation Serif", "Times New Roman", serif' font-weight="bold" font-size="97">Transmittance <tspan font-weight="normal">(</tspan>%<tspan font-weight="normal">)</tspan></text>
<text x="827.6" y="1861" font-family='"Liberation Serif", "Times New Roman", serif' font-weight="bold" font-size="97">Wavenumbers(cm</text>
<text x="1583" y="1822" font-family='"Liberation Serif", "Times New Roman", serif' font-weight="bold" font-size="68">-1</text>
<text transform="translate(1643.5 1858) scale(1.35 1)" font-family="&quot;Liberation Serif&quot;, &quot;Noto Serif CJK SC&quot;, serif" font-size="81">）</text>
</svg>
</body></html>
